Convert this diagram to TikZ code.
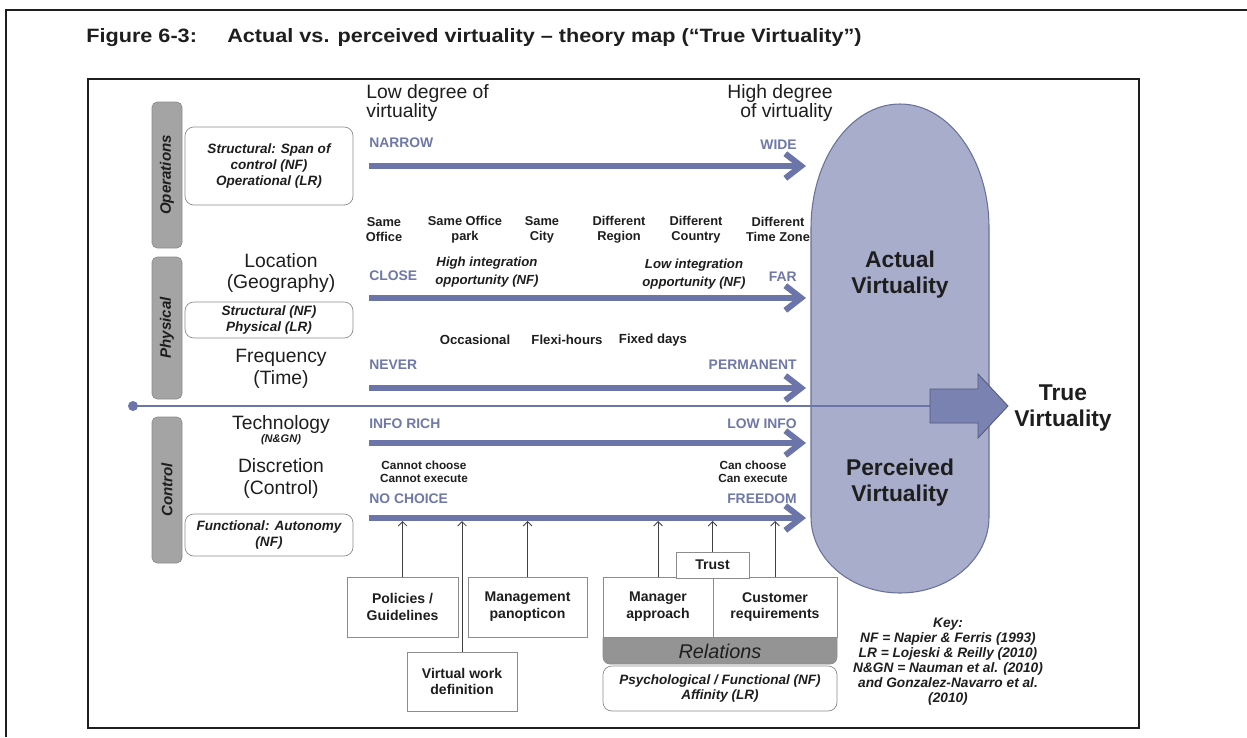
\documentclass[tikz,border=0pt]{standalone}
\usepackage{fontspec}
\setmainfont{Liberation Sans}
\usetikzlibrary{arrows.meta,positioning}
\definecolor{vBar}{HTML}{6B75AA}
\definecolor{vLbl}{HTML}{6F78A6}
\definecolor{vPill}{HTML}{A8ADCC}
\definecolor{vPillEdge}{HTML}{69719A}
\definecolor{vBig}{HTML}{7A82B2}
\definecolor{vTab}{HTML}{A4A4A4}
\definecolor{vEdge}{HTML}{8C8C8C}
\definecolor{vInk}{HTML}{1E1E1E}
\newlength{\pxu}
\setlength{\pxu}{0.02cm}
\newcommand{\fsz}[2]{\fontsize{#1}{#2}\selectfont}
\tikzset{
  tab/.style={rotate=90, fill=vTab, draw=vEdge, rounded corners=3pt,
              minimum height=30\pxu, inner sep=0pt, text=vInk,
              font=\fsz{8.6}{9}\bfseries\itshape},
  srcbox/.style={draw=vEdge, fill=white, rounded corners=5pt, align=center,
                 minimum width=168\pxu, inner sep=1pt, text=vInk,
                 font=\fsz{7.7}{9}\bfseries\itshape},
  dimlbl/.style={align=center, inner sep=0pt, text=vInk, font=\fsz{11}{12.5}},
  endlbl/.style={inner sep=0pt, text=vLbl, font=\fsz{7.9}{9}\bfseries},
  spot/.style={align=center, inner sep=0pt, text=vInk, font=\fsz{7.3}{8.5}\bfseries},
  integ/.style={align=center, inner sep=0pt, text=vInk, font=\fsz{7.5}{10.2}\bfseries\itshape},
  choice/.style={align=center, inner sep=0pt, text=vInk, font=\fsz{6.7}{7.4}\bfseries},
  pilltxt/.style={align=center, inner sep=0pt, text=vInk, font=\fsz{13}{14.7}\bfseries},
  factor/.style={draw=vEdge, fill=white, align=center, inner sep=1pt, text=vInk,
                 font=\fsz{8}{9.6}\bfseries},
  rowbar/.style={line width=6\pxu, draw=vBar,
                 -{Straight Barb[length=9pt, width=14pt]}},
  feed/.style={draw=vInk!85, line width=0.5pt,
               -{Straight Barb[length=2.5pt, width=5pt]}},
}

\begin{document}
\begin{tikzpicture}[x=0.02cm, y=-0.02cm]
\useasboundingbox (0,0) rectangle (1247,737);

%% page frame and figure frame
\draw[line width=0.8pt, vInk] (5,10) -- (1247,10);
\draw[line width=0.8pt, vInk] (6,10) -- (6,737);
\draw[line width=0.9pt, vInk] (88,79) rectangle (1139,728);

\node[anchor=west, inner sep=0pt, text=vInk, font=\fsz{11}{12}\bfseries] (title) at (86,38)
  {\scalebox{1.12}[1]{Figure 6-3:\hspace{1.4em}Actual vs. perceived virtuality – theory map (“True Virtuality”)}};

%% the pill
\path[fill=vPill, draw=vPillEdge, line width=0.6pt]
  (811,228) arc[start angle=180, end angle=360, x radius=89, y radius=124]
  -- (989,517) arc[start angle=0, end angle=180, x radius=89, y radius=76] -- cycle;
\node[pilltxt] (actual) at (900,275) {Actual\\Virtuality};
\node[pilltxt] (perceived) at (900,483) {Perceived\\Virtuality};

%% scale heads
\node[anchor=west, align=left, inner sep=0pt, text=vInk, font=\fsz{11}{11.3}] (low) at (366,103)
  {Low degree of\\virtuality};
\node[anchor=east, align=right, inner sep=0pt, text=vInk, font=\fsz{11}{11.3}] (high) at (833,103)
  {High degree\\of virtuality};

%% left column
\node[tab, minimum width=146\pxu] (tabops) at (167,175) {Operations};
\node[tab, minimum width=142\pxu] (tabphy) at (167,328) {Physical};
\node[tab, minimum width=146\pxu] (tabctl) at (167,490) {Control};

\node[srcbox, minimum height=78\pxu] (opsbox) at (269,166)
  {Structural: Span of\\control (NF)\\Operational (LR)};
\node[srcbox, minimum height=36\pxu] (phybox) at (269,320)
  {Structural (NF)\\Physical (LR)};
\node[srcbox, minimum height=42\pxu] (ctlbox) at (269,535)
  {Functional: Autonomy\\(NF)};

\node[dimlbl] (location) at (281,273) {Location\\(Geography)};
\node[dimlbl] (frequency) at (281,368.5) {Frequency\\(Time)};
\node[dimlbl] (technology) at (281,424) {Technology};
\node[inner sep=0pt, text=vInk, font=\fsz{6.3}{7}\bfseries\itshape] (ngn) at (281,440) {(N\&GN)};
\node[dimlbl] (discretion) at (281,478.5) {Discretion\\(Control)};

%% rows
\coordinate (opsL) at (369,166);  \coordinate (opsR) at (806,166);
\coordinate (locL) at (369,298);  \coordinate (locR) at (806,298);
\coordinate (freqL) at (369,388); \coordinate (freqR) at (806,388);
\coordinate (techL) at (369,443); \coordinate (techR) at (806,443);
\coordinate (discL) at (369,518); \coordinate (discR) at (806,518);

\node[endlbl, anchor=west] (narrow) at (369,143) {NARROW};
\node[endlbl, anchor=east] (wide) at (797,145) {WIDE};
\node[endlbl, anchor=west] (close) at (369,276) {CLOSE};
\node[endlbl, anchor=east] (far) at (797,277) {FAR};
\node[endlbl, anchor=west] (never) at (369,365) {NEVER};
\node[endlbl, anchor=east] (permanent) at (797,365) {PERMANENT};
\node[endlbl, anchor=west] (inforich) at (369,424) {INFO RICH};
\node[endlbl, anchor=east] (lowinfo) at (797,424) {LOW INFO};
\node[endlbl, anchor=west] (nochoice) at (369,499) {NO CHOICE};
\node[endlbl, anchor=east] (freedom) at (797,499) {FREEDOM};

\foreach \x/\t [count=\i] in {384/{Same\\Office}, 465/{Same Office\\park},
    542/{Same\\City}, 619/{Different\\Region}, 696/{Different\\Country},
    778/{Different\\Time Zone}}
  \node[spot] (place\i) at (\x,229.5) {\t};

\node[integ] (highint) at (487,272) {High integration\\opportunity (NF)};
\node[integ] (lowint) at (694,274) {Low integration\\opportunity (NF)};

\foreach \x/\t [count=\i] in {475/Occasional, 567/Flexi-hours, 653/Fixed days}
  \node[spot, font=\fsz{7.5}{8.5}\bfseries] (time\i) at (\x,340) {\t};

\node[choice] (cannot) at (424,471.5) {Cannot choose\\Cannot execute};
\node[choice] (can) at (753,471.5) {Can choose\\Can execute};

%% bottom factors
\node[factor, minimum width=111\pxu, minimum height=60\pxu] (policies) at (402.5,607)
  {Policies /\\Guidelines};
\node[factor, minimum width=119\pxu, minimum height=60\pxu] (panopticon) at (527.5,607)
  {Management\\panopticon};
\node[factor, minimum width=110\pxu, minimum height=59\pxu] (vwork) at (462,681.5)
  {Virtual work\\definition};
\node[fill=vTab!90!black, draw=vEdge, rounded corners=4pt, minimum width=234\pxu,
      minimum height=32\pxu, inner sep=0pt] (relbar) at (720,648) {};
\node[text=vInk, inner sep=0pt, font=\fsz{11.3}{12}\itshape] (relations) at (720,651) {Relations};
\node[factor, minimum width=110\pxu, minimum height=60\pxu] (manager) at (658,607)
  {Manager\\approach};
\node[factor, minimum width=124\pxu, minimum height=60\pxu] (customer) at (775,607)
  {Customer\\requirements};
\node[factor, minimum width=73\pxu, minimum height=26\pxu] (trust) at (712.5,565) {Trust};
\node[srcbox, minimum width=234\pxu, minimum height=45\pxu] (psych) at (720,688.5)
  {Psychological / Functional (NF)\\Affinity (LR)};

\foreach \b in {policies, vwork, panopticon, manager, trust, customer}
  \draw[feed, shorten >=3\pxu] (\b.north) -- (\b.north |- discL);

\foreach \n in {ops, loc, freq, tech, disc}
  \draw[rowbar] (\n L) -- (\n R);

%% true virtuality
\coordinate (axis0) at (133,406);
\coordinate (bigtail) at (930,406);
\draw[vBar, line width=2.5\pxu] (axis0) -- (bigtail);
\fill[vBar] (axis0) circle[radius=5];
\path[fill=vBig, draw=vPillEdge!80!black, line width=0.5pt]
  (930,389) -- (978,389) -- (978,374) -- (1008,406) -- (978,438) -- (978,423)
  -- (930,423) -- cycle;
\node[pilltxt] (truev) at (1063,408) {True\\Virtuality};

%% key
\node[align=center, inner sep=0pt, text=vInk, font=\fsz{7.8}{8.5}\bfseries\itshape] (key) at (948,662)
  {Key:\\NF = Napier \& Ferris (1993)\\LR = Lojeski \& Reilly (2010)\\
   N\&GN = Nauman et al. (2010)\\and Gonzalez-Navarro et al.\\(2010)};

\end{tikzpicture}
\end{document}
